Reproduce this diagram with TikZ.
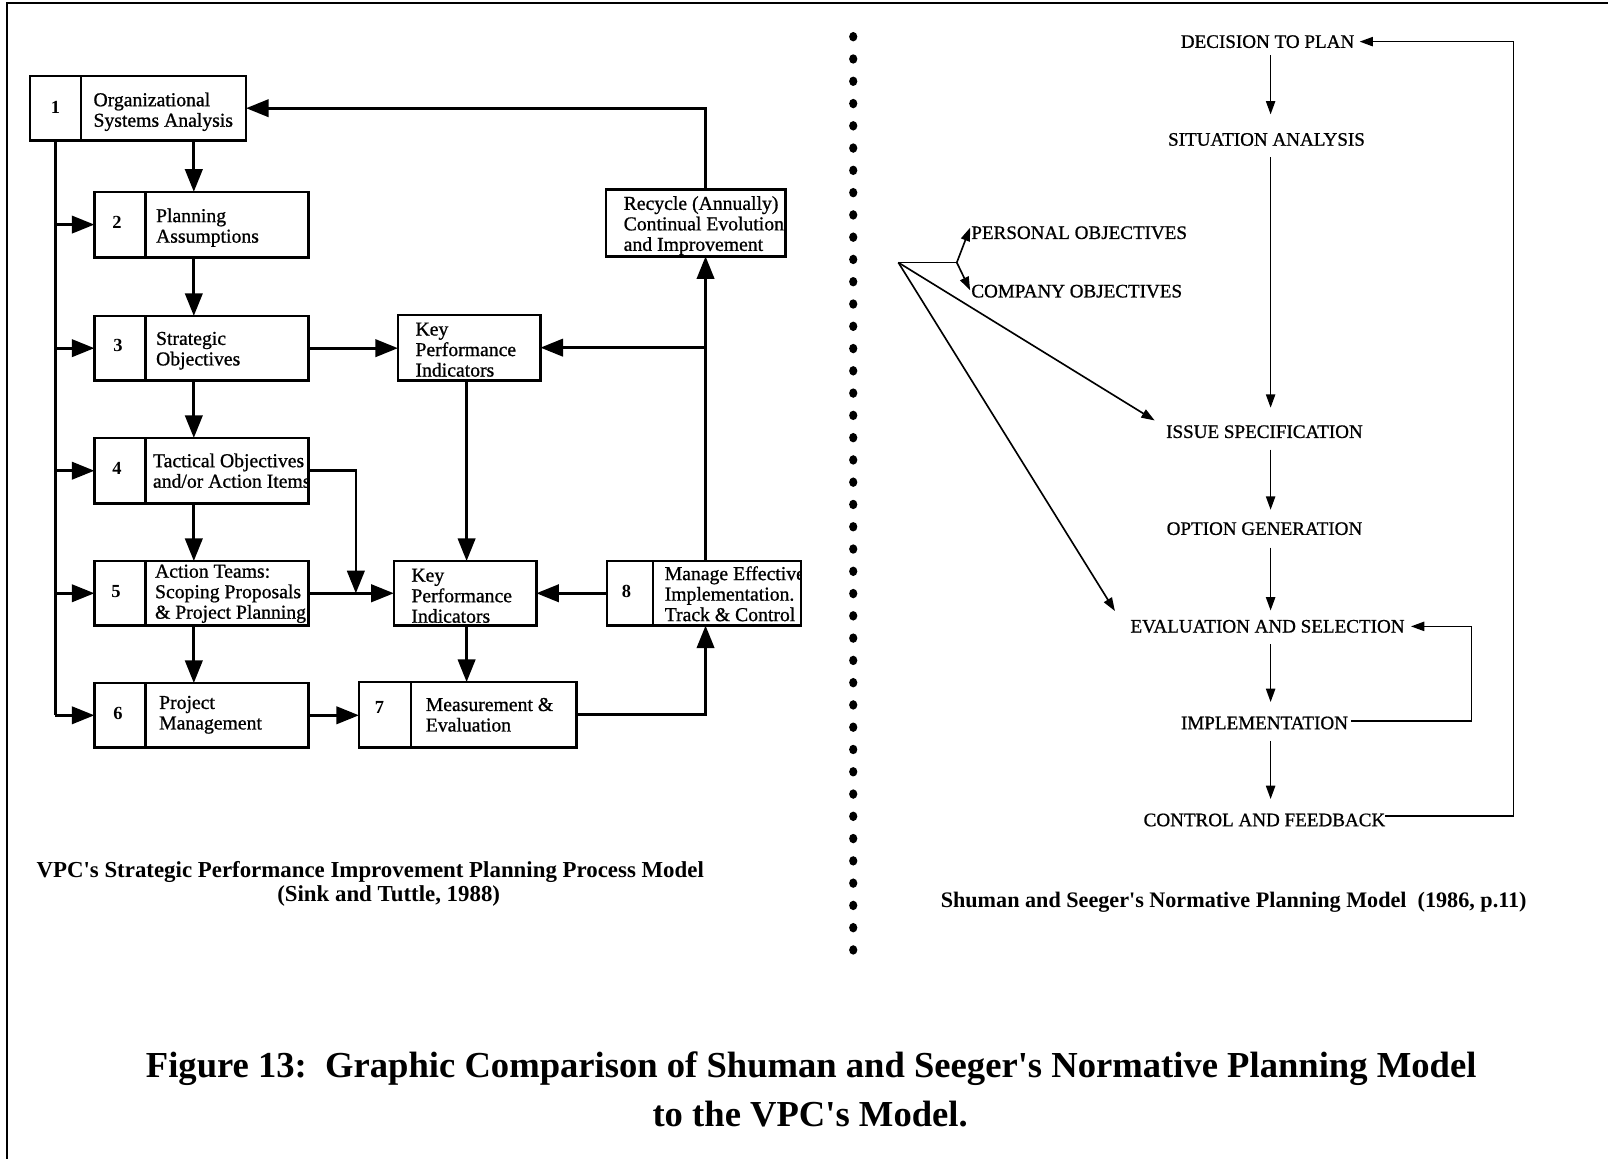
\documentclass[tikz,border=0pt]{standalone}
\usepackage{fontspec}
\setmainfont{Liberation Serif}
\newfontfamily\inkfont{Liberation Serif}[FakeBold=0.9]
\usetikzlibrary{arrows.meta,calc}
\newcommand{\ap}{\textquotesingle}
\begin{document}
\begin{tikzpicture}[x=1pt,y=-1pt,
  frame/.style={line width=2.2pt},
  bx/.style={draw,line width=2.4pt,rectangle,inner sep=0pt,outer sep=0pt,anchor=north west},
  divl/.style={line width=2.4pt},
  numf/.style={font=\fontsize{18}{20}\selectfont\bfseries,inner sep=0pt},
  txt/.style={font=\inkfont\fontsize{19.2}{20}\selectfont,align=left,anchor=west,inner sep=0pt},
  conn/.style={line width=2.6pt},
  bigarr/.style={conn,-{Triangle[length=22pt,width=17pt]}},
  lab/.style={font=\inkfont\fontsize{18.6}{20}\selectfont,inner sep=0pt},
  thinl/.style={line width=1.6pt},
  smarr/.style={thinl,-{Triangle[length=13pt,width=9pt]}},
  capf/.style={font=\fontsize{22.3}{26}\selectfont\bfseries,inner sep=0pt},
  titf/.style={font=\fontsize{35.7}{44}\selectfont\bfseries,inner sep=0pt},
]
\useasboundingbox (0,0) rectangle (1568,1130);
\fill[white] (0,0) rectangle (1568,1130);
\draw[frame] (7,1130) -- (7,3) -- (1568,3);

% ---------- left model: boxes ----------
\node[bx,minimum width=211pt,minimum height=63pt] (b1) at (29,74) {};
\node[bx,minimum width=209pt,minimum height=64pt] (b2) at (92,187) {};
\node[bx,minimum width=209pt,minimum height=63pt] (b3) at (92,308) {};
\node[bx,minimum width=209pt,minimum height=64pt] (b4) at (92,427) {};
\node[bx,minimum width=209pt,minimum height=63pt] (b5) at (92,547) {};
\node[bx,minimum width=209pt,minimum height=63pt] (b6) at (92,666) {};
\node[bx,minimum width=212pt,minimum height=64pt] (b7) at (350,665) {};
\node[bx,minimum width=189pt,minimum height=63pt] (b8) at (592,547) {};
\node[bx,minimum width=139pt,minimum height=64pt] (k1) at (388,307) {};
\node[bx,minimum width=139pt,minimum height=63pt] (k2) at (384,547) {};
\node[bx,minimum width=175pt,minimum height=65pt] (rc) at (591,185) {};

\foreach \b/\d in {b1/50,b2/50,b3/50,b4/50,b5/50,b6/50,b7/51,b8/45}
  \draw[divl] ($(\b.north west)+(\d,0)$) -- ($(\b.south west)+(\d,0)$);

\node[numf] (n1) at (54,105) {1};
\node[numf] (n2) at (114,217) {2};
\node[numf] (n3) at (115,337) {3};
\node[numf] (n4) at (114,457) {4};
\node[numf] (n5) at (113,577) {5};
\node[numf] (n6) at (115,696) {6};
\node[numf] (n7) at (370,690) {7};
\node[numf] (n8) at (611,577) {8};

\node[txt] (t1) at (91,109) {Organizational\\Systems Analysis};
\node[txt] (t2) at (152,222) {Planning\\Assumptions};
\node[txt] (t3) at (152,342) {Strategic\\Objectives};
\begin{scope}
  \clip (b4.north west) rectangle (b4.south east);
  \node[txt] (t4) at (149,459) {Tactical Objectives\\and/or Action Items};
\end{scope}
\node[txt] (t5) at (151,579) {Action Teams:\\Scoping Proposals\\\& Project Planning};
\node[txt] (t6) at (155,697) {Project\\Management};
\node[txt] (t7) at (415,697) {Measurement \&\\Evaluation};
\begin{scope}
  \clip (b8.north west) rectangle (b8.south east);
  \node[txt] (t8) at (648,579) {Manage Effective\\Implementation.\\Track \& Control};
\end{scope}
\node[txt] (tk1) at (405,341) {Key\\Performance\\Indicators};
\node[txt] (tk2) at (401,581) {Key\\Performance\\Indicators};
\begin{scope}
  \clip (rc.north west) rectangle (rc.south east);
  \node[txt] (trc) at (608,220) {Recycle (Annually)\\Continual Evolution\\and Improvement};
\end{scope}

% ---------- left model: connectors ----------
\coordinate (sp) at (189,0);
\coordinate (bus) at (54,0);
\coordinate (c4) at (347,0);
\coordinate (c8) at (688,0);
\coordinate (kx) at (455,0);

\draw[conn] (b1.south -| bus) -- (b6.west -| bus);
\foreach \b in {b2,b3,b4,b5,b6} \draw[bigarr] (\b.west -| bus) -- (\b.west);
\draw[bigarr] (b1.south -| sp) -- (b2.north -| sp);
\draw[bigarr] (b2.south -| sp) -- (b3.north -| sp);
\draw[bigarr] (b3.south -| sp) -- (b4.north -| sp);
\draw[bigarr] (b4.south -| sp) -- (b5.north -| sp);
\draw[bigarr] (b5.south -| sp) -- (b6.north -| sp);
\draw[bigarr] (b3.east) -- (b3.east -| k1.west);
\draw[bigarr] (k1.south -| kx) -- (k2.north -| kx);
\draw[bigarr] (b4.east) -| (c4 |- k2.west);
\draw[bigarr] (b5.east) -- (b5.east -| k2.west);
\draw[bigarr] (b8.west) -- (b8.west -| k2.east);
\draw[bigarr] (k2.south -| kx) -- (b7.north -| kx);
\draw[bigarr] (b6.east) -- (b6.east -| b7.west);
\draw[bigarr] (b7.east) -| (b8.south -| c8);
\draw[bigarr] (b8.north -| c8) -- (rc.south -| c8);
\draw[bigarr] (c8 |- k1.east) -- (k1.east);
\draw[bigarr] (rc.north -| c8) |- (b1.east);

% ---------- dotted separator ----------
\foreach \i in {0,...,41} \fill ({832},{35.8+\i*21.72}) ellipse (4pt and 4.6pt);

% ---------- right model ----------
\node[lab] (dec) at (1236,40.6) {DECISION TO PLAN};
\node[lab] (sit) at (1235,136) {SITUATION ANALYSIS};
\node[lab,anchor=west] (per) at (947,227) {PERSONAL OBJECTIVES};
\node[lab,anchor=west] (com) at (947,284) {COMPANY OBJECTIVES};
\node[lab] (iss) at (1233,421) {ISSUE SPECIFICATION};
\node[lab] (opt) at (1233,515.5) {OPTION GENERATION};
\node[lab] (eva) at (1236,610.8) {EVALUATION AND SELECTION};
\node[lab] (imp) at (1233,705) {IMPLEMENTATION};
\node[lab] (con) at (1233,799.6) {CONTROL AND FEEDBACK};

\coordinate (ax) at (1239,0);
\draw[smarr,shorten <=7pt,shorten >=18pt] (dec.south -| ax) -- (sit.north -| ax);
\draw[smarr,shorten <=11pt,shorten >=17pt] (sit.south -| ax) -- (iss.north -| ax);
\draw[smarr,shorten <=11pt,shorten >=12pt] (iss.south -| ax) -- (opt.north -| ax);
\draw[smarr,shorten <=12pt,shorten >=9pt] (opt.south -| ax) -- (eva.north -| ax);
\draw[smarr,shorten <=11pt,shorten >=14pt] (eva.south -| ax) -- (imp.north -| ax);
\draw[smarr,shorten <=11pt,shorten >=14pt] (imp.south -| ax) -- (con.north -| ax);

\coordinate (f1) at (1435,0);
\coordinate (f2) at (1476,0);
\coordinate (cf) at ([yshift=4pt]con.east);
\coordinate (imf) at ([yshift=2pt]imp.east);
\draw[smarr,shorten <=3pt,shorten >=6pt] (imf) -- (imf -| f1) |- (eva.east);
\draw[smarr,shorten >=5pt] (cf) -- (cf -| f2) |- (dec.east);

\coordinate (fo) at (876,256);
\coordinate (fb) at (933,256);
\draw[thinl] (fo) -- (fb);
\draw[smarr] (fb) -- ([shift={(-1,-5)}]per.west);
\draw[smarr] (fb) -- ([shift={(-1,-1)}]com.west);
\draw[smarr] (fo) -- ([shift={(-11,-11)}]iss.west);
\draw[smarr] (fo) -- ([shift={(-15,-15)}]eva.west);

% ---------- captions ----------
\node[capf] (cap1) at (361,850) {VPC\ap s Strategic Performance Improvement Planning Process Model};
\node[capf] (cap2) at (379,874) {(Sink and Tuttle, 1988)};
\node[capf,font=\fontsize{21.6}{26}\selectfont\bfseries] (cap3) at (1203,880) {Shuman and Seeger\ap s Normative Planning Model\ \ (1986, p.11)};
\node[titf] (tit1) at (791,1042) {Figure 13:\ \ Graphic Comparison of Shuman and Seeger\ap s Normative Planning Model};
\node[titf] (tit2) at (790,1086) {to the VPC\ap s Model.};
\end{tikzpicture}
\end{document}
